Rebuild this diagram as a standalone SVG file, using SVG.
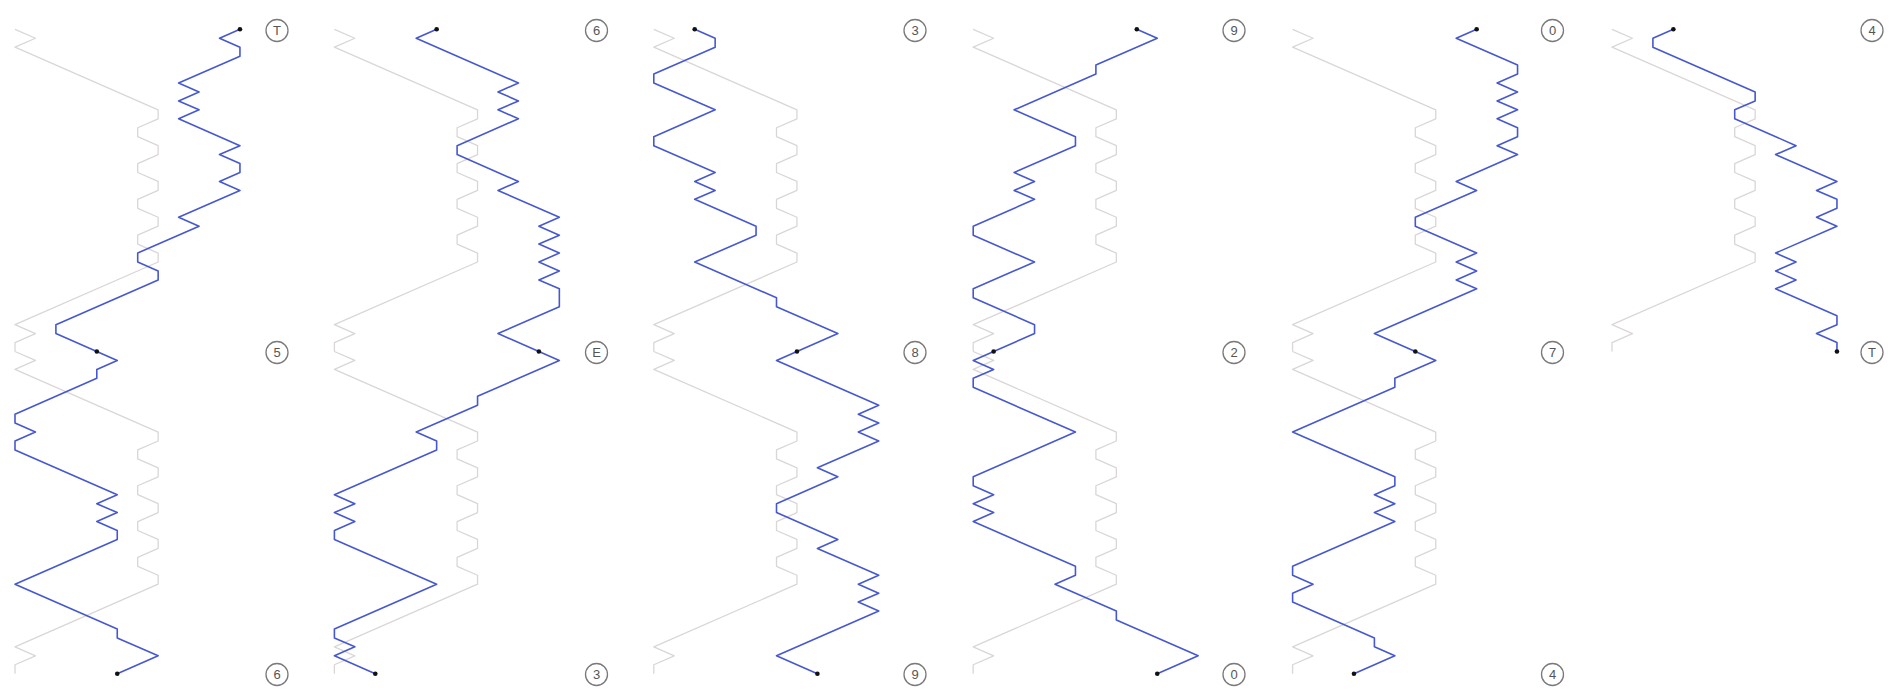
<svg xmlns="http://www.w3.org/2000/svg" xmlns:xlink="http://www.w3.org/1999/xlink" width="1894" height="692" viewBox="0 0 1894 692">
<style>
.ghost{fill:none;stroke:#dad6d6;stroke-width:1.3;stroke-linejoin:round;vector-effect:non-scaling-stroke}
.path{fill:none;stroke:#4658cf;stroke-width:1.6;stroke-linejoin:round;stroke-linecap:round;vector-effect:non-scaling-stroke}
.dot{fill:#111}
.lc{fill:#fff;stroke:#7a7a7a;stroke-width:1.3}
.lt{font-family:"Liberation Sans",Arial,sans-serif;font-size:13px;fill:#555;text-anchor:middle;dominant-baseline:central}
</style>
<defs>
<polyline id="ghost" class="ghost" points="0,0 1,1 0,2 7,9 7,10 6,11 6,12 7,13 7,14 6,15 6,16 7,17 7,18 6,19 6,20 7,21 7,22 6,23 6,24 7,25 7,26 0,33 1,34 0,35 0,36"/>
</defs>
<rect width="1894" height="692" fill="#fff"/>
<g id="connectors">
<g transform="translate(15,29.3) scale(20.45,8.95)"><use href="#ghost"/><polyline class="path" points="11,0 10,1 11,2 11,3 8,6 9,7 8,8 9,9 8,10 11,13 10,14 11,15 11,16 10,17 11,18 8,21 9,22 6,25 6,26 7,27 7,28 2,33 2,34 4,36"/></g>
<g transform="translate(15,351.5) scale(20.45,8.95)"><use href="#ghost"/><polyline class="path" points="4,0 5,1 4,2 4,3 0,7 0,8 1,9 0,10 0,11 5,16 4,17 5,18 4,19 5,20 5,21 0,26 5,31 5,32 7,34 5,36"/></g>
<g transform="translate(334.4,29.3) scale(20.45,8.95)"><use href="#ghost"/><polyline class="path" points="5,0 4,1 9,6 8,7 9,8 8,9 9,10 6,13 6,14 9,17 8,18 11,21 10,22 11,23 10,24 11,25 10,26 11,27 10,28 11,29 11,30 11,31 8,34 10,36"/></g>
<g transform="translate(334.4,351.5) scale(20.45,8.95)"><use href="#ghost"/><polyline class="path" points="10,0 11,1 7,5 7,6 4,9 5,10 5,11 0,16 1,17 0,18 1,19 0,20 0,21 5,26 0,31 0,32 1,33 0,34 2,36"/></g>
<g transform="translate(653.8,29.3) scale(20.45,8.95)"><use href="#ghost"/><polyline class="path" points="2,0 3,1 3,2 0,5 0,6 3,9 0,12 0,13 3,16 2,17 3,18 2,19 5,22 5,23 2,26 6,30 6,31 9,34 7,36"/></g>
<g transform="translate(653.8,351.5) scale(20.45,8.95)"><use href="#ghost"/><polyline class="path" points="7,0 6,1 11,6 10,7 11,8 10,9 11,10 8,13 9,14 6,17 6,18 9,21 8,22 11,25 10,26 11,27 10,28 11,29 6,34 8,36"/></g>
<g transform="translate(973.2,29.3) scale(20.45,8.95)"><use href="#ghost"/><polyline class="path" points="8,0 9,1 6,4 6,5 2,9 5,12 5,13 2,16 3,17 2,18 3,19 0,22 0,23 3,26 0,29 0,30 3,33 3,34 1,36"/></g>
<g transform="translate(973.2,351.5) scale(20.45,8.95)"><use href="#ghost"/><polyline class="path" points="1,0 0,1 1,2 0,3 0,4 5,9 0,14 0,15 1,16 0,17 1,18 0,19 5,24 5,25 4,26 7,29 7,30 11,34 9,36"/></g>
<g transform="translate(1292.6,29.3) scale(20.45,8.95)"><use href="#ghost"/><polyline class="path" points="9,0 8,1 11,4 11,5 10,6 11,7 10,8 11,9 10,10 11,11 11,12 10,13 11,14 8,17 9,18 6,21 6,22 9,25 8,26 9,27 8,28 9,29 4,34 6,36"/></g>
<g transform="translate(1292.6,351.5) scale(20.45,8.95)"><use href="#ghost"/><polyline class="path" points="6,0 7,1 5,3 5,4 0,9 5,14 5,15 4,16 5,17 4,18 5,19 0,24 0,25 1,26 0,27 0,28 4,32 4,33 5,34 3,36"/></g>
<g transform="translate(1612,29.3) scale(20.45,8.95)"><use href="#ghost"/><polyline class="path" points="3,0 2,1 2,2 7,7 7,8 6,9 6,10 9,13 8,14 11,17 10,18 11,19 11,20 10,21 11,22 8,25 9,26 8,27 9,28 8,29 11,32 11,33 10,34 11,35 11,36"/></g>
</g>
<g id="dots">
<circle class="dot" cx="239.95" cy="29.3" r="2.3"/>
<circle class="dot" cx="96.8" cy="351.5" r="2.3"/>
<circle class="dot" cx="117.25" cy="673.7" r="2.3"/>
<circle class="dot" cx="436.65" cy="29.3" r="2.3"/>
<circle class="dot" cx="538.9" cy="351.5" r="2.3"/>
<circle class="dot" cx="375.3" cy="673.7" r="2.3"/>
<circle class="dot" cx="694.7" cy="29.3" r="2.3"/>
<circle class="dot" cx="796.95" cy="351.5" r="2.3"/>
<circle class="dot" cx="817.4" cy="673.7" r="2.3"/>
<circle class="dot" cx="1136.8" cy="29.3" r="2.3"/>
<circle class="dot" cx="993.65" cy="351.5" r="2.3"/>
<circle class="dot" cx="1157.25" cy="673.7" r="2.3"/>
<circle class="dot" cx="1476.65" cy="29.3" r="2.3"/>
<circle class="dot" cx="1415.3" cy="351.5" r="2.3"/>
<circle class="dot" cx="1353.95" cy="673.7" r="2.3"/>
<circle class="dot" cx="1673.35" cy="29.3" r="2.3"/>
<circle class="dot" cx="1836.95" cy="351.5" r="2.3"/>
</g>
<g id="label-c1-top"><circle class="lc" cx="277" cy="30.5" r="11"/><text class="lt" x="277" y="30.5">T</text></g>
<g id="label-c1-mid"><circle class="lc" cx="277" cy="352.5" r="11"/><text class="lt" x="277" y="352.5">5</text></g>
<g id="label-c1-bot"><circle class="lc" cx="277" cy="674.5" r="11"/><text class="lt" x="277" y="674.5">6</text></g>
<g id="label-c2-top"><circle class="lc" cx="596.5" cy="30.5" r="11"/><text class="lt" x="596.5" y="30.5">6</text></g>
<g id="label-c2-mid"><circle class="lc" cx="596.5" cy="352.5" r="11"/><text class="lt" x="596.5" y="352.5">E</text></g>
<g id="label-c2-bot"><circle class="lc" cx="596.5" cy="674.5" r="11"/><text class="lt" x="596.5" y="674.5">3</text></g>
<g id="label-c3-top"><circle class="lc" cx="915" cy="30.5" r="11"/><text class="lt" x="915" y="30.5">3</text></g>
<g id="label-c3-mid"><circle class="lc" cx="915" cy="352.5" r="11"/><text class="lt" x="915" y="352.5">8</text></g>
<g id="label-c3-bot"><circle class="lc" cx="915" cy="674.5" r="11"/><text class="lt" x="915" y="674.5">9</text></g>
<g id="label-c4-top"><circle class="lc" cx="1234" cy="30.5" r="11"/><text class="lt" x="1234" y="30.5">9</text></g>
<g id="label-c4-mid"><circle class="lc" cx="1234" cy="352.5" r="11"/><text class="lt" x="1234" y="352.5">2</text></g>
<g id="label-c4-bot"><circle class="lc" cx="1234" cy="674.5" r="11"/><text class="lt" x="1234" y="674.5">0</text></g>
<g id="label-c5-top"><circle class="lc" cx="1552.5" cy="30.5" r="11"/><text class="lt" x="1552.5" y="30.5">0</text></g>
<g id="label-c5-mid"><circle class="lc" cx="1552.5" cy="352.5" r="11"/><text class="lt" x="1552.5" y="352.5">7</text></g>
<g id="label-c5-bot"><circle class="lc" cx="1552.5" cy="674.5" r="11"/><text class="lt" x="1552.5" y="674.5">4</text></g>
<g id="label-c6-top"><circle class="lc" cx="1872" cy="30.5" r="11"/><text class="lt" x="1872" y="30.5">4</text></g>
<g id="label-c6-mid"><circle class="lc" cx="1872" cy="352.5" r="11"/><text class="lt" x="1872" y="352.5">T</text></g>
</svg>
